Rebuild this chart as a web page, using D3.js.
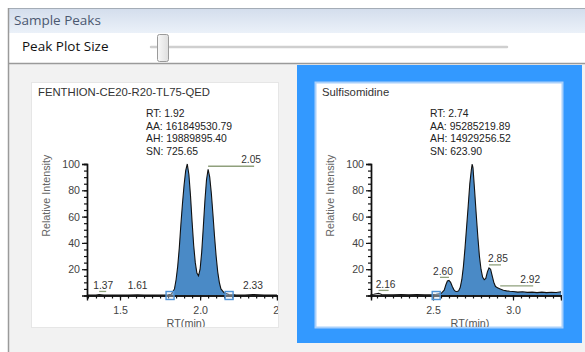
<!DOCTYPE html>
<html>
<head>
<meta charset="utf-8">
<script src="https://cdn.jsdelivr.net/npm/d3@7"></script>
<style>
  body { margin: 0; background: #fff; }
  svg { display: block; }
</style>
</head>
<body>
<script>
// --- data ---
const fenthionName = "FENTHION-CE20-R20-TL75-QED";
const fenthionStats = ["RT: 1.92", "AA: 161849530.79", "AH: 19889895.40", "SN: 725.65"];
const fenthionRt = [1.30, 1.35, 1.37, 1.40, 1.45, 1.50, 1.55, 1.61, 1.65, 1.70, 1.75, 1.80, 1.82, 1.84, 1.85, 1.86, 1.87, 1.88, 1.89, 1.90, 1.91, 1.92, 1.93, 1.94, 1.95, 1.96, 1.97, 1.98, 1.99, 2.00, 2.01, 2.02, 2.03, 2.04, 2.05, 2.06, 2.07, 2.08, 2.09, 2.10, 2.11, 2.12, 2.13, 2.15, 2.18, 2.22, 2.28, 2.33, 2.40, 2.48];
const fenthionInt = [0.3, 0.4, 0.8, 0.3, 0.3, 0.3, 0.3, 0.6, 0.3, 0.3, 0.4, 0.6, 1, 5, 12, 22, 36, 54, 70, 84, 95, 100, 92, 76, 56, 38, 25, 17, 15, 20, 33, 52, 72, 88, 96, 90, 78, 62, 45, 30, 18, 10, 5, 2, 0.8, 0.5, 0.4, 0.8, 0.3, 0.3];
const fenthionPeaks = [1.37, 1.61, 2.05, 2.33];
const fenthionBounds = [1.8125, 2.181];
const fenthionXTicks = [1.5, 2.0, 2.5];

const sulfName = "Sulfisomidine";
const sulfStats = ["RT: 2.74", "AA: 95285219.89", "AH: 14929256.52", "SN: 623.90"];
const sulfRt = [2.11, 2.13, 2.16, 2.18, 2.20, 2.25, 2.30, 2.35, 2.40, 2.45, 2.50, 2.52, 2.55, 2.57, 2.58, 2.59, 2.60, 2.61, 2.62, 2.63, 2.64, 2.65, 2.66, 2.67, 2.68, 2.69, 2.70, 2.71, 2.72, 2.73, 2.74, 2.745, 2.75, 2.76, 2.77, 2.78, 2.79, 2.80, 2.81, 2.82, 2.83, 2.84, 2.85, 2.86, 2.87, 2.88, 2.89, 2.90, 2.92, 2.94, 2.96, 2.98, 3.00, 3.03, 3.06, 3.09, 3.12, 3.15, 3.18, 3.21, 3.24, 3.27, 3.30];
const sulfInt = [0.8, 1.0, 1.6, 0.8, 0.6, 0.6, 0.7, 0.6, 0.7, 0.6, 0.8, 1.0, 1.5, 4, 8, 11, 11.5, 10, 7, 4.5, 3.2, 3, 3.5, 6, 12, 22, 36, 52, 68, 85, 96, 100, 97, 80, 62, 45, 30, 20, 14, 12, 13, 18, 21, 20, 15, 10, 7, 6, 5, 4, 3.5, 3.2, 3, 2.6, 2.8, 2.4, 2.6, 2.2, 2.6, 2.2, 2.5, 2.3, 2.8];
const sulfPeaks = [2.16, 2.60, 2.85, 2.92];
const sulfBounds = [2.52, 3.40];
const sulfXTicks = [2.5, 3.0];

const yTicks = [20, 40, 60, 80, 100];

// --- page chrome ---
const W = 585, H = 352;
const svg = d3.select("body").append("svg").attr("width", W).attr("height", H);
const defs = svg.append("defs");

const hdr = defs.append("linearGradient").attr("id", "hdr").attr("x1", 0).attr("y1", 0).attr("x2", 0).attr("y2", 1);
hdr.append("stop").attr("offset", "0%").attr("stop-color", "#d3ddec");
hdr.append("stop").attr("offset", "100%").attr("stop-color", "#ebf1f9");
const thumb = defs.append("linearGradient").attr("id", "thumb").attr("x1", 0).attr("y1", 0).attr("x2", 1).attr("y2", 0);
thumb.append("stop").attr("offset", "0%").attr("stop-color", "#f8f8f8");
thumb.append("stop").attr("offset", "100%").attr("stop-color", "#dedede");

svg.append("rect").attr("width", W).attr("height", H).attr("fill", "#fff");
svg.append("rect").attr("x", 8).attr("y", 8).attr("width", W - 8).attr("height", 25).attr("fill", "url(#hdr)");
svg.append("line").attr("x1", 8).attr("x2", W).attr("y1", 8.5).attr("y2", 8.5).attr("stroke", "#a4acb6");
svg.append("text").attr("x", 14).attr("y", 21).attr("dominant-baseline", "middle")
  .style("font", "13.5px 'Open Sans', sans-serif").attr("fill", "#4b5870").text("Sample Peaks");

svg.append("text").attr("x", 22).attr("y", 47.5).attr("dominant-baseline", "middle")
  .style("font", "13.5px 'Open Sans', sans-serif").attr("fill", "#111").text("Peak Plot Size");
svg.append("line").attr("x1", 151).attr("x2", 507).attr("y1", 47).attr("y2", 47)
  .attr("stroke", "#cfcfcf").attr("stroke-width", 2.5).attr("stroke-linecap", "round");
svg.append("rect").attr("x", 157.5).attr("y", 34.5).attr("width", 11).attr("height", 27).attr("rx", 2)
  .attr("fill", "url(#thumb)").attr("stroke", "#9a9a9a");

svg.append("rect").attr("x", 9).attr("y", 63).attr("width", W - 9).attr("height", H - 63).attr("fill", "#f2f2f2");
svg.append("line").attr("x1", 8).attr("x2", W).attr("y1", 63.5).attr("y2", 63.5).attr("stroke", "#9a9a9a").attr("stroke-width", 1.5);
svg.append("line").attr("x1", 8.5).attr("x2", 8.5).attr("y1", 8).attr("y2", H).attr("stroke", "#9a9a9a").attr("stroke-width", 1.5);

// selected card highlight
svg.append("rect").attr("x", 297).attr("y", 65).attr("width", 285).attr("height", 278).attr("fill", "#3399ff");

const font = "'Liberation Sans', Arial, sans-serif";

function drawPanel(o) {
  const card = svg.append("g").attr("transform", `translate(${o.x},${o.y})`);
  const cw = 246, ch = 244;
  const clipId = "clip" + o.id;
  defs.append("clipPath").attr("id", clipId).append("rect").attr("width", cw).attr("height", ch);
  card.append("rect").attr("x", -0.5).attr("y", -0.5).attr("width", cw + 1).attr("height", ch + 1)
    .attr("fill", "#fff").attr("stroke", o.border).attr("stroke-width", o.borderW);

  const inner = card.append("g").attr("clip-path", `url(#${clipId})`);
  inner.append("text").attr("x", 6).attr("y", 10.5).attr("dominant-baseline", "middle")
    .style("font", `11.3px ${font}`).attr("fill", "#333").text(o.name);

  const px = 55, py = 81, pw = 190, ph = 131.5;
  const x = d3.scaleLinear().domain(o.domain).range([0, pw]);
  const y = d3.scaleLinear().domain([0, 100]).range([ph, 0]);
  const g = inner.append("g").attr("transform", `translate(${px},${py})`);

  // stats block
  g.append("g").selectAll("text").data(o.stats).join("text")
    .attr("x", 59).attr("y", (d, i) => -49.5 + i * 12.6)
    .attr("dominant-baseline", "middle")
    .style("font", `10.4px ${font}`).attr("fill", "#222").text(d => d);

  const pts = o.rt.map((r, i) => ({ rt: r, v: o.int[i] }));
  const inside = pts.filter(d => d.rt >= o.bounds[0] && d.rt <= o.bounds[1]);

  g.append("path").datum(inside)
    .attr("fill", "#4a8ac6")
    .attr("d", d3.area().x(d => x(d.rt)).y0(y(0)).y1(d => y(d.v)));
  g.append("path").datum(pts)
    .attr("fill", "none").attr("stroke", "#111").attr("stroke-width", 1.1)
    .attr("d", d3.line().x(d => x(d.rt)).y(d => y(d.v)));

  // x axis: major + minor ticks
  const xMinor = d3.axisBottom(x).tickValues(d3.range(Math.ceil(o.domain[0] * 20), Math.floor(o.domain[1] * 20) + 1).map(k => k / 20))
    .tickSize(3).tickFormat("");
  const xMajor = d3.axisBottom(x).tickValues(o.xTicks).tickSize(5).tickPadding(6).tickFormat(d3.format(".1f"));
  g.append("g").attr("transform", `translate(0,${ph})`).call(xMinor);
  const xa = g.append("g").attr("transform", `translate(0,${ph})`).call(xMajor);
  const yMinor = d3.axisLeft(y).tickValues(d3.range(5, 101, 5)).tickSize(3).tickFormat("");
  const yMajor = d3.axisLeft(y).tickValues(yTicks).tickSize(5).tickPadding(2);
  g.append("g").call(yMinor);
  const ya = g.append("g").call(yMajor);
  g.selectAll(".domain").attr("stroke", "#111").attr("stroke-width", 1.4);
  g.selectAll(".tick line").attr("stroke", "#111").attr("stroke-width", 1.2);
  [xa, ya].forEach(a => a.selectAll("text").style("font", `10.6px ${font}`).attr("fill", "#444"));

  // integration boundary markers
  g.append("g").selectAll("rect").data(o.bounds.filter(b => b <= o.domain[1])).join("rect")
    .attr("x", d => x(d) - 4).attr("y", ph - 4).attr("width", 8).attr("height", 8)
    .attr("fill", "#dbe9f7").attr("fill-opacity", 0.4).attr("stroke", "#4f93d6").attr("stroke-width", 1.4);

  // peak labels with leader lines
  const bis = d3.bisector(d => d.rt).left;
  o.peaks.forEach((p, i) => {
    const j = Math.min(bis(pts, p), pts.length - 1);
    const v = pts[j].v;
    const dx = o.labelDx[i];
    const ly = y(v) - 3;
    if (dx !== 0) {
      g.append("line").attr("x1", x(p)).attr("x2", x(p) + dx + Math.sign(dx) * 3)
        .attr("y1", ly).attr("y2", ly).attr("stroke", "#8fa07c").attr("stroke-width", 1.3);
    }
    g.append("text").attr("x", x(p) + dx).attr("y", ly - 5.5)
      .attr("text-anchor", "middle").attr("dominant-baseline", "middle")
      .style("font", `10.2px ${font}`).attr("fill", "#333").text(p.toFixed(2));
  });

  g.append("text").attr("transform", `translate(-40,${ph / 2 - 34}) rotate(-90)`)
    .attr("text-anchor", "middle").attr("dominant-baseline", "middle")
    .style("font", `10.8px ${font}`).attr("fill", "#666").text("Relative Intensity");
  g.append("text").attr("x", pw / 2 + 4).attr("y", ph + 29)
    .attr("text-anchor", "middle").attr("dominant-baseline", "middle")
    .style("font", `10.8px ${font}`).attr("fill", "#555").text("RT(min)");
}

drawPanel({
  id: "a", x: 32, y: 83, border: "#e6e6e6", borderW: 1,
  name: fenthionName, stats: fenthionStats, rt: fenthionRt, int: fenthionInt,
  peaks: fenthionPeaks, labelDx: [4, 0, 43, 0], bounds: fenthionBounds,
  domain: [1.294, 2.48], xTicks: fenthionXTicks
});
drawPanel({
  id: "b", x: 316, y: 83, border: "#a9d0fb", borderW: 2,
  name: sulfName, stats: sulfStats, rt: sulfRt, int: sulfInt,
  peaks: sulfPeaks, labelDx: [7, -6, 9, 30], bounds: sulfBounds,
  domain: [2.1125, 3.30], xTicks: sulfXTicks
});
</script>
</body>
</html>
